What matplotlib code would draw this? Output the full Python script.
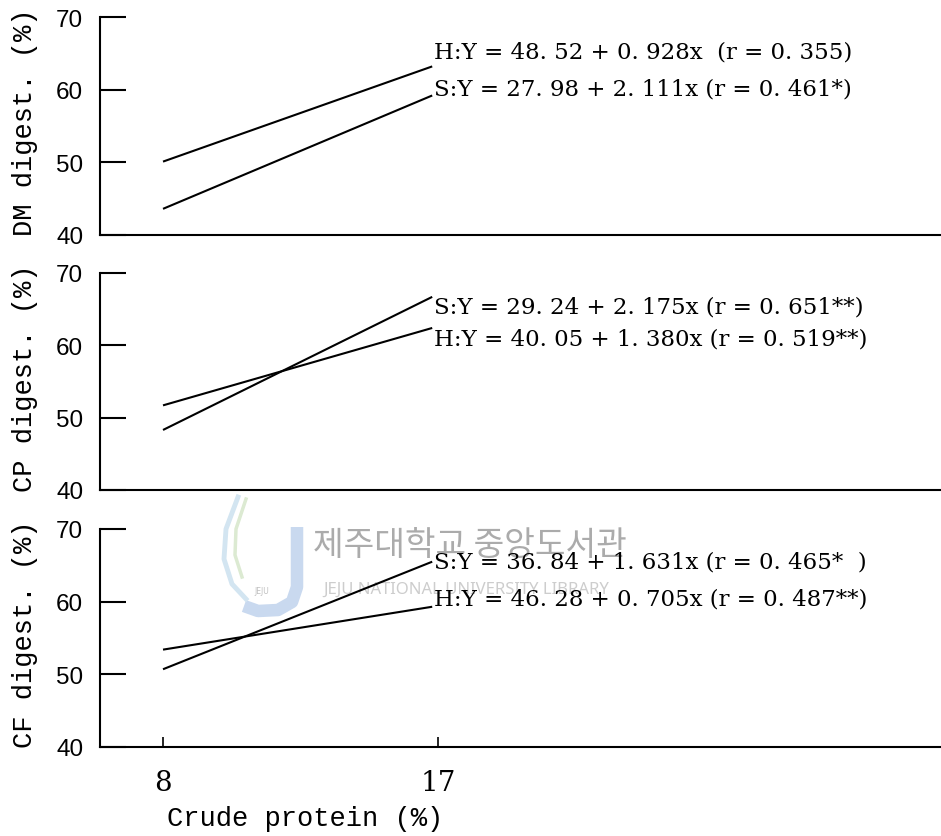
import matplotlib.pyplot as plt
import matplotlib as mpl
from matplotlib.lines import Line2D

mpl.rcParams.update({"axes.spines.top": False, "axes.spines.right": False})

# regression lines (endpoints at x = 8 and x ~ 17)
x_ends = [8, 16.8]
dm_H = [50.1, 63.2]
dm_S = [43.6, 59.2]
cp_S = [48.3, 66.7]
cp_H = [51.7, 62.4]
cf_S = [50.7, 65.5]
cf_H = [53.4, 59.3]

ylabels = ["DM digest. (%)", "CP digest. (%)", "CF digest. (%)"]
eq_dm = ["H:Y = 48. 52 + 0. 928x  (r = 0. 355)", "S:Y = 27. 98 + 2. 111x (r = 0. 461*)"]
eq_cp = ["S:Y = 29. 24 + 2. 175x (r = 0. 651**)", "H:Y = 40. 05 + 1. 380x (r = 0. 519**)"]
eq_cf = ["S:Y = 36. 84 + 1. 631x (r = 0. 465*  )", "H:Y = 46. 28 + 0. 705x (r = 0. 487**)"]
eq_y = [[65.3, 60.2], [65.4, 61.0], [65.5, 60.5]]
yticks = [40, 50, 60, 70]
xticks = [8, 17]

panels = [(dm_H, dm_S, eq_dm), (cp_S, cp_H, eq_cp), (cf_S, cf_H, eq_cf)]
tops = [18, 274, 530]
bots = [236, 491, 748]

W, H = 941, 837
fig = plt.figure(figsize=(W / 100, H / 100), dpi=100)

SERIF = "DejaVu Serif"
MONO = "Liberation Mono"
SANS = "Liberation Sans"

# library watermark (faint, behind the plot)
wm = fig.add_axes([0, 0, 1, 1], zorder=-1)
wm.set_xlim(0, W); wm.set_ylim(H, 0); wm.axis("off")
wm.add_line(Line2D([297, 297, 292, 278, 258, 244], [528, 588, 603, 611, 612, 607],
                   color="#c9d9ef", lw=9, solid_capstyle="butt"))
wm.add_line(Line2D([238, 226, 224, 232, 246], [498, 530, 560, 585, 600],
                   color="#d3e5f1", lw=3.5))
wm.add_line(Line2D([246, 236, 235, 242], [500, 530, 556, 578],
                   color="#dcead2", lw=2.5))
wm.text(262, 592, "JEJU", fontsize=5.5, color="#c0c0c0", ha="center", va="center")
wm.text(470, 545, "제주대학교 중앙도서관", family=["Noto Sans CJK KR"],
        fontsize=24, color="#ababab", ha="center", va="center")
wm.text(466, 590, "JEJU NATIONAL UNIVERSITY LIBRARY", family=["Noto Sans"],
        fontsize=12, color="#cdcdcd", ha="center", va="center")

for i, (l1, l2, eqs) in enumerate(panels):
    b = 1 - bots[i] / H
    h = (bots[i] - tops[i]) / H
    ax = fig.add_axes([100 / W, b, 840 / W, h])
    ax.patch.set_alpha(0)
    ax.set_xlim(5.94, 33.4)
    ax.set_ylim(40, 70)
    ax.plot(x_ends, l1, color="k", lw=1.5, solid_capstyle="butt")
    ax.plot(x_ends, l2, color="k", lw=1.5, solid_capstyle="butt")
    for t, yy in zip(eqs, eq_y[i]):
        ax.text(16.85, yy, t, fontsize=16.5, family=SERIF, ha="left", va="center")
    for s in ["left", "bottom"]:
        ax.spines[s].set_linewidth(1.5)
    ax.set_yticks(yticks)
    ax.tick_params(axis="y", direction="in", length=19, width=1.5, pad=12,
                   labelsize=17.5)
    for lab in ax.get_yticklabels():
        lab.set_family(SANS)
    ax.set_ylabel(ylabels[i], family=MONO, fontsize=19.5)
    ax.yaxis.set_label_coords(-0.074, 0.52)
    if i < 2:
        ax.set_xticks([])
    else:
        ax.set_xticks(xticks)
        ax.tick_params(axis="x", direction="in", length=7, width=1.2, pad=16,
                       labelsize=20)
        for lab in ax.get_xticklabels():
            lab.set_family(SERIF)
        ax.set_xlabel("Crude protein (%)", family=MONO, fontsize=19.5)
        ax.xaxis.set_label_coords(0.244, -0.265)

fig.savefig("out.png", dpi=100)
